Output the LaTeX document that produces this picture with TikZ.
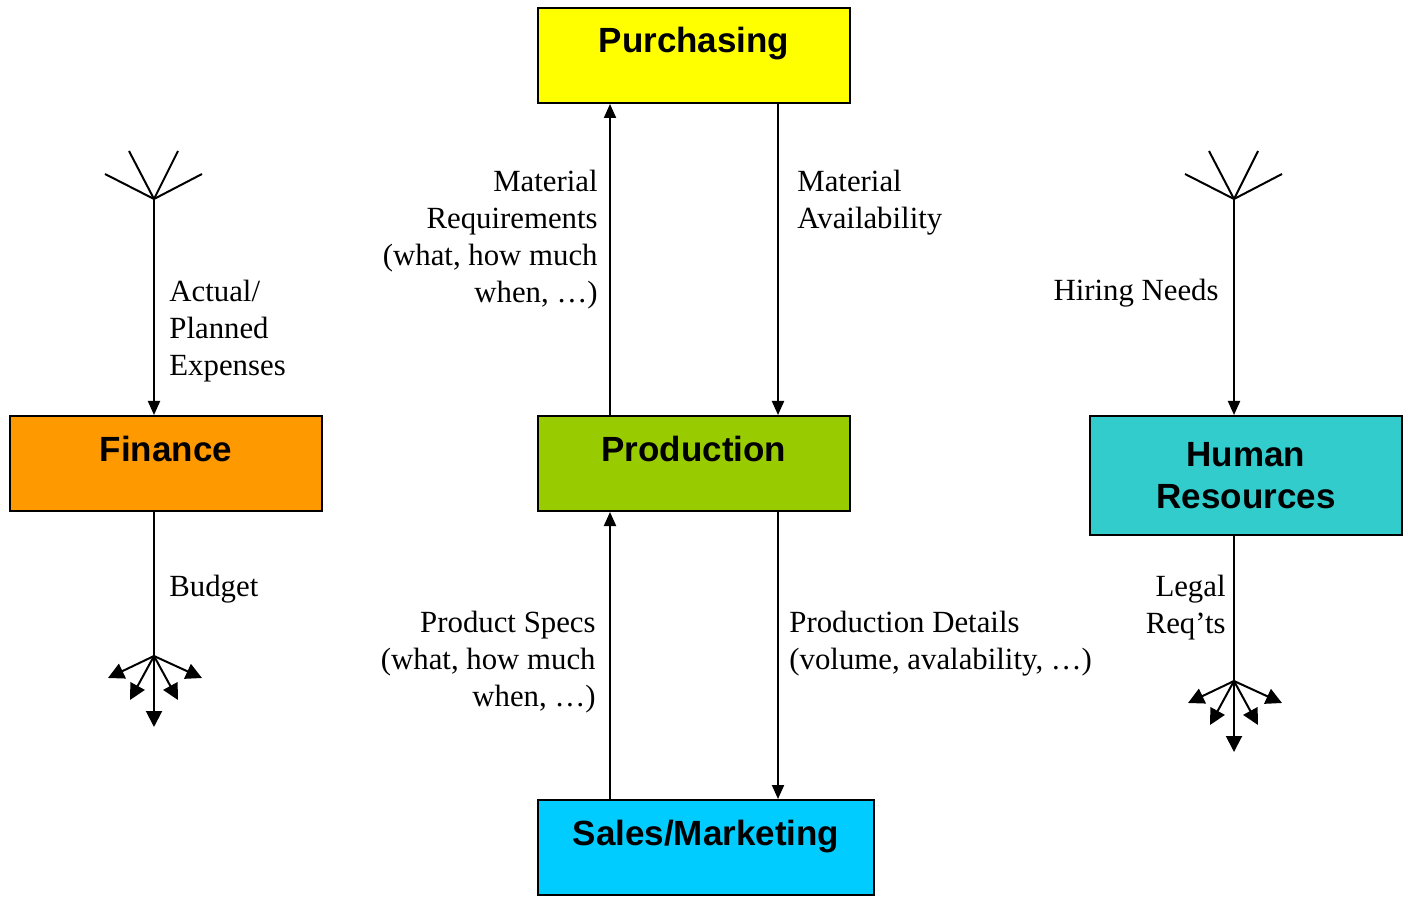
\documentclass[tikz,border=0pt]{standalone}
\usepackage{fontspec}
\setmainfont{Liberation Serif}
\newfontfamily\boxfont{Liberation Sans}
\usetikzlibrary{positioning,arrows.meta}

\tikzset{
	blocco/.style={draw, line width=1pt, inner sep=0pt, minimum width=156pt, minimum height=47.5pt, align=center, font=\boxfont\bfseries\fontsize{17.5}{21}\selectfont},
	bloccoriga/.style={blocco, text height=22.5pt, text depth=25pt},
	etichetta/.style={inner sep=0pt, font=\fontsize{15.4}{18.5}\selectfont},
	linea/.style={line width=1pt},
	freccia/.style={line width=1pt, -{Triangle[length=7pt,width=6pt]}},
	ventaglio/.style={line width=1pt, -{Triangle[length=8pt,width=8pt]}}
}

\begin{document}
\begin{tikzpicture}[x=0.5pt, y=-0.5pt]
	\useasboundingbox (0,0) rectangle (1408,898);
	% blocchi
	\node[bloccoriga, fill={rgb,255:red,255;green,255;blue,0}] (purch) at (694,55.5) {Purchasing};
	\node[bloccoriga, fill={rgb,255:red,153;green,204;blue,0}] (prod) at (694,463.5) {Production};
	\node[bloccoriga, fill={rgb,255:red,255;green,153;blue,0}] (fin) at (166,463.5) {Finance};
	\node[blocco, minimum height=59.5pt, fill={rgb,255:red,51;green,204;blue,204}] (hr) at (1246,475.5) {Human\\Resources};
	\node[bloccoriga, minimum width=168pt, fill={rgb,255:red,0;green,204;blue,255}] (sales) at (706,847.5) {Sales/Marketing};

	% punti
	\coordinate (xl) at (610,0);
	\coordinate (xr) at (778,0);
	\coordinate (finTop) at (154,199);
	\coordinate (finBot) at (154,656);
	\coordinate (hrTop) at (1234,199);
	\coordinate (hrBot) at (1234,681);

	% frecce
	\draw[freccia] (xl |- prod.north) -- (xl |- purch.south);
	\draw[freccia] (xr |- purch.south) -- (xr |- prod.north);
	\draw[freccia] (xl |- sales.north) -- (xl |- prod.south);
	\draw[freccia] (xr |- prod.south) -- (xr |- sales.north);
	\draw[freccia] (finTop) -- (finTop |- fin.north);
	\draw[linea] (finTop |- fin.south) -- (finBot);
	\draw[freccia] (hrTop) -- (hrTop |- hr.north);
	\draw[linea] (hrTop |- hr.south) -- (hrBot);

	% ventagli
	\foreach \c in {finTop, hrTop}
		\foreach \dx/\dy in {-49/-25, -25/-48, 24/-48, 48/-25}
			\draw[linea] (\c) -- ++(\dx,\dy);
	\foreach \c in {finBot, hrBot}
		\foreach \dx/\dy in {-46/22, -24/44, 0/71, 24/44, 48/22}
			\draw[ventaglio] (\c) -- ++(\dx,\dy);

	% etichette
	\node[etichetta, anchor=north east, align=right] (lreq) at (598,170) {Material\\Requirements\\(what, how much\\when, \dots)};
	\node[etichetta, anchor=north west, align=left] (lavail) at (797,170) {Material\\Availability};
	\node[etichetta, anchor=north west, align=left] (lexp) at (169,280) {Actual/\\Planned\\Expenses};
	\node[etichetta, anchor=north west] (lbudget) at (169,575) {Budget};
	\node[etichetta, anchor=north east] (lhire) at (1219,279) {Hiring Needs};
	\node[etichetta, anchor=north east, align=right] (llegal) at (1226,575) {Legal\\Req’ts};
	\node[etichetta, anchor=north east, align=right] (lspecs) at (596,611) {Product Specs\\(what, how much\\when, \dots)};
	\node[etichetta, anchor=north west, align=left] (ldet) at (789,611) {Production Details\\(volume, avalability, \dots)};
\end{tikzpicture}
\end{document}
